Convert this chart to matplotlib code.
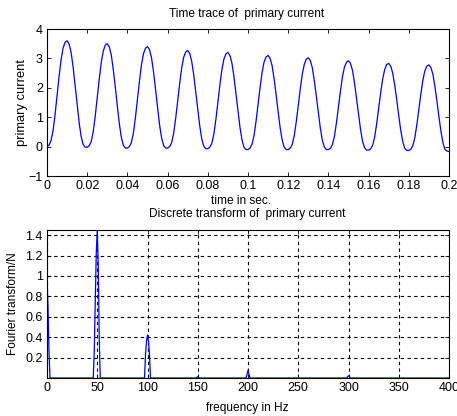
import matplotlib
matplotlib.use("Agg")
import matplotlib.pyplot as plt
import numpy as np

plt.rcParams['font.family'] = ['Liberation Sans Narrow', 'Liberation Sans', 'DejaVu Sans']

# ---- time trace (sampled every 1 ms, 0 .. 0.2 s) ----
time_s = [i / 1000 for i in range(201)]
current = [
    0.00, 0.05, 0.20, 0.54, 1.08, 1.73, 2.38, 2.95, 3.35, 3.55, 3.60, 3.49, 3.20, 2.70, 2.08, 1.43, 0.81, 0.34, 0.07, -0.02,
    -0.02, 0.03, 0.17, 0.51, 1.04, 1.67, 2.30, 2.87, 3.25, 3.45, 3.50, 3.39, 3.11, 2.61, 2.01, 1.37, 0.77, 0.31, 0.04, -0.05,
    -0.05, 0.00, 0.14, 0.47, 0.99, 1.61, 2.23, 2.78, 3.16, 3.35, 3.40, 3.30, 3.02, 2.54, 1.95, 1.33, 0.74, 0.30, 0.04, -0.05,
    -0.05, 0.00, 0.13, 0.45, 0.95, 1.54, 2.14, 2.67, 3.04, 3.22, 3.27, 3.17, 2.90, 2.44, 1.87, 1.27, 0.70, 0.26, 0.01, -0.07,
    -0.07, -0.02, 0.11, 0.42, 0.91, 1.50, 2.09, 2.61, 2.97, 3.15, 3.20, 3.10, 2.84, 2.38, 1.81, 1.22, 0.66, 0.23, -0.02, -0.10,
    -0.10, -0.05, 0.08, 0.38, 0.86, 1.44, 2.01, 2.52, 2.88, 3.05, 3.10, 3.00, 2.75, 2.30, 1.76, 1.18, 0.64, 0.22, -0.02, -0.10,
    -0.10, -0.05, 0.07, 0.37, 0.84, 1.40, 1.96, 2.46, 2.80, 2.97, 3.02, 2.93, 2.68, 2.24, 1.71, 1.15, 0.62, 0.21, -0.02, -0.10,
    -0.10, -0.06, 0.07, 0.35, 0.81, 1.35, 1.89, 2.38, 2.71, 2.87, 2.92, 2.83, 2.59, 2.16, 1.64, 1.10, 0.58, 0.18, -0.04, -0.12,
    -0.12, -0.08, 0.04, 0.32, 0.77, 1.30, 1.83, 2.30, 2.62, 2.79, 2.83, 2.74, 2.50, 2.09, 1.59, 1.05, 0.55, 0.17, -0.06, -0.13,
    -0.13, -0.09, 0.03, 0.31, 0.74, 1.27, 1.79, 2.26, 2.58, 2.74, 2.78, 2.69, 2.46, 2.04, 1.54, 1.01, 0.51, 0.13, -0.10, -0.15,
    -0.17,
]
time_ticks = [0, 0.02, 0.04, 0.06, 0.08, 0.1, 0.12, 0.14, 0.16, 0.18, 0.2]
time_tick_labels = ["0", "0.02", "0.04", "0.06", "0.08", "0.1", "0.12", "0.14", "0.16", "0.18", "0.2"]
current_ticks = [-1, 0, 1, 2, 3, 4]

# ---- spectrum (|FFT|/N) ----
freq_hz = [0, 1, 2, 3, 46, 47, 48, 49, 50, 51, 52, 53, 97, 98, 99, 100, 101, 102, 103,
           148, 149, 150, 151, 152, 198, 199, 200, 201, 202, 298, 299, 300, 301, 302, 400]
fourier = [0.97, 0.70, 0.25, 0.0, 0.0, 0.25, 0.74, 1.22, 1.45, 1.10, 0.37, 0.0, 0.0, 0.22, 0.36, 0.42, 0.36, 0.22, 0.0,
           0.0, 0.005, 0.012, 0.005, 0.0, 0.0, 0.035, 0.075, 0.035, 0.0, 0.0, 0.01, 0.022, 0.01, 0.0, 0.0]
freq_ticks = [0, 50, 100, 150, 200, 250, 300, 350, 400]
fourier_ticks = [0.2, 0.4, 0.6, 0.8, 1.0, 1.2, 1.4]
fourier_tick_labels = ["0.2", "0.4", "0.6", "0.8", "1", "1.2", "1.4"]

W, H = 457, 416
fig = plt.figure(figsize=(W / 100, H / 100), dpi=100)

def fx(px):
    return px / W

def fy(py):
    return 1 - py / H

fs = 8.6
ax1 = fig.add_axes([47 / W, 1 - 176 / H, 402 / W, 147 / H])
ax1.plot(time_s, current, color=(0, 0, 1), lw=0.9)
ax1.set_xlim(0, 0.2)
ax1.set_ylim(-1, 4)
ax1.set_xticks(time_ticks)
ax1.set_xticklabels(time_tick_labels)
ax1.set_yticks(current_ticks)

ax2 = fig.add_axes([47 / W, 1 - 378 / H, 402 / W, 148 / H])
ax2.plot(freq_hz, fourier, color=(0, 0, 1), lw=0.9)
ax2.set_xlim(0, 400)
ax2.set_ylim(0, max(fourier))
ax2.set_xticks(freq_ticks)
ax2.set_yticks(fourier_ticks)
ax2.set_yticklabels(fourier_tick_labels)
ax2.grid(True, color='black', linestyle=(0, (3, 3)), lw=0.8)

for ax in (ax1, ax2):
    ax.tick_params(direction='in', length=3, width=0.6, top=True, right=True,
                   labelsize=9, pad=3)
    for s in ax.spines.values():
        s.set_linewidth(0.8)
        s.set_color('black')

# titles and axis labels placed as in the reference
fig.text(fx(247), fy(14), "Time trace of  primary current", fontsize=fs, ha='center', va='center')
fig.text(fx(241), fy(201), "time in sec.", fontsize=fs, ha='center', va='center')
fig.text(fx(22), fy(103), "primary current", fontsize=9.3, ha='center', va='center', rotation=90)
fig.text(fx(247), fy(214), "Discrete transform of  primary current", fontsize=fs, ha='center', va='center')
fig.text(fx(247), fy(408), "frequency in Hz", fontsize=fs, ha='center', va='center')
fig.text(fx(13), fy(304), "Fourier transform/N", fontsize=fs, ha='center', va='center', rotation=90)

fig.savefig("out.png", dpi=100, facecolor='white')
